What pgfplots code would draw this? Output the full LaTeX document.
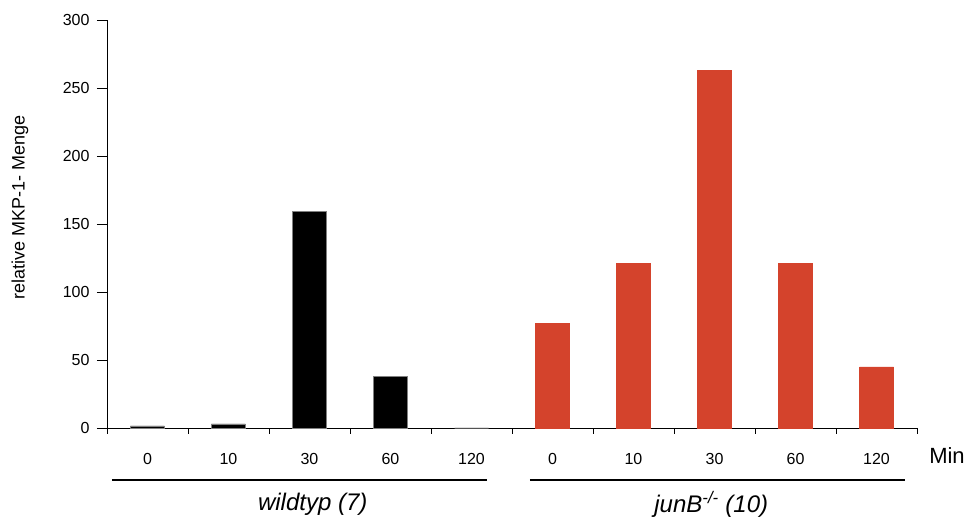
\documentclass[border=0pt]{standalone}
\usepackage{pgfplots}
\pgfplotsset{compat=1.18}
\usepackage{fontspec}
\setmainfont{Liberation Sans}
\definecolor{barred}{HTML}{D4432C}
\begin{document}
\begin{tikzpicture}
\path[use as bounding box] (-107pt,-90pt) rectangle (860pt,428pt);
\begin{axis}[
  scale only axis, width=810pt, height=408pt,
  xmin=-0.5, xmax=9.5, ymin=0, ymax=300,
  axis lines=left, axis line style={-, line width=0.8pt},
  ytick={0,50,...,300},
  xtick={0,...,9},
  xticklabels={0,10,30,60,120,0,10,30,60,120},
  minor xtick={-0.5,0.5,...,9.5},
  tick align=outside,
  major x tick style={draw=none},
  major tick length=10pt, minor tick length=6pt,
  tick style={line width=0.8pt, black},
  /pgf/number format/assume math mode=true,
  ticklabel style={font=\fontsize{16}{19}\selectfont},
  xticklabel style={yshift=-12pt},
  yticklabel style={xshift=-4pt},
  ylabel={relative MKP-1- Menge},
  every axis y label/.style={at={(axis description cs:0,0.5)}, xshift=-87pt, yshift=17pt, rotate=90, anchor=center, font=\fontsize{18}{21}\selectfont},
  ybar, bar width=34pt, bar shift=0pt,
  clip=false,
]
\addplot[fill=black, draw=gray, line width=0.6pt] coordinates {(0,1.5) (1,3) (2,159) (3,38) (4,0)};
\addplot[fill=barred, draw=barred] coordinates {(5,77) (6,121) (7,263) (8,121) (9,45)};
\draw[line width=2pt] ([yshift=-52pt]axis cs:-0.44,0) -- ([yshift=-52pt]axis cs:4.19,0);
\draw[line width=2pt] ([yshift=-52pt]axis cs:4.72,0) -- ([yshift=-52pt]axis cs:9.35,0);
\node[font=\fontsize{24}{28}\selectfont\itshape] at ([yshift=-76pt]axis cs:2.04,0) {wildtyp (7)};
\node[font=\fontsize{24}{28}\selectfont\itshape] at ([yshift=-76pt]axis cs:6.96,0) {junB\textsuperscript{-/-} (10)};
\node[font=\fontsize{22}{26}\selectfont] at ([yshift=-28pt]axis cs:9.87,0) {Min};
\end{axis}
\end{tikzpicture}
\end{document}
